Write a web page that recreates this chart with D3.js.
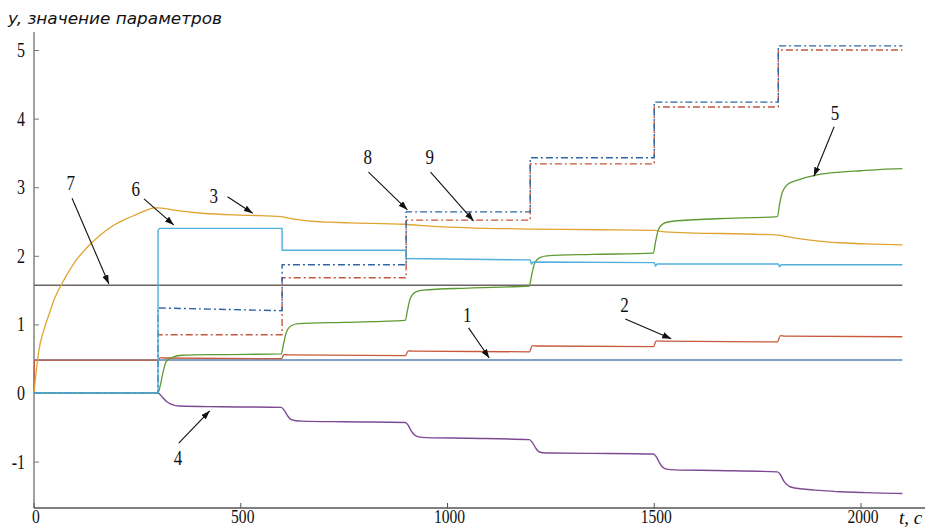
<!DOCTYPE html>
<html><head><meta charset="utf-8">
<script src="https://cdn.jsdelivr.net/npm/d3@7"></script>
<style>body{margin:0;background:#fff;overflow:hidden}</style>
</head><body><svg id="c" width="927" height="529"></svg>
<script>
// ---------- data ----------
const xTicks = [0, 500, 1000, 1500, 2000];
const yTicks = [-1, 0, 1, 2, 3, 4, 5];
const yTitle = "y, значение параметров";
const xTitle = "t, c";

// 1 – blue
const t1 = [0, 2100];
const v1 = [0.48, 0.48];
// 2 – red
const t2 = [0, 1, 300, 305, 315, 598, 605, 615, 898, 905, 915, 1198, 1205, 1215, 1498, 1505, 1515, 1798, 1805, 1815, 2100];
const v2 = [0, 0.48, 0.48, 0.515, 0.51, 0.50, 0.56, 0.555, 0.545, 0.615, 0.61, 0.60, 0.69, 0.685, 0.675, 0.76, 0.755, 0.745, 0.835, 0.83, 0.82];
// 3 – orange
const t3 = [0, 6, 12, 24, 36, 50, 68, 100, 133, 160, 189, 220, 247, 270, 290, 300, 334, 407, 520, 598, 615, 634, 680, 714, 763, 896, 964, 1199, 1368, 1500, 1525, 1800, 1821, 1877, 1949, 2030, 2100];
const v3 = [0, 0.35, 0.63, 0.92, 1.14, 1.38, 1.6, 1.92, 2.15, 2.3, 2.43, 2.53, 2.6, 2.66, 2.7, 2.7, 2.67, 2.62, 2.59, 2.57, 2.55, 2.53, 2.50, 2.49, 2.48, 2.46, 2.43, 2.39, 2.38, 2.37, 2.35, 2.30, 2.28, 2.23, 2.19, 2.17, 2.16];
// 4 – purple
const t4 = [0, 300, 310, 320, 330, 340, 351, 450, 598, 605, 613, 620, 630, 650, 750, 898, 905, 913, 920, 930, 950, 1050, 1198, 1205, 1213, 1220, 1230, 1250, 1350, 1498, 1505, 1513, 1520, 1530, 1550, 1650, 1798, 1805, 1813, 1820, 1830, 1860, 1900, 1950, 2000, 2050, 2100];
const v4 = [0, 0, -0.06, -0.12, -0.16, -0.18, -0.19, -0.20, -0.21, -0.25, -0.33, -0.38, -0.40, -0.41, -0.42, -0.43, -0.47, -0.56, -0.61, -0.64, -0.65, -0.66, -0.68, -0.72, -0.80, -0.85, -0.87, -0.875, -0.88, -0.89, -0.93, -1.02, -1.08, -1.11, -1.12, -1.13, -1.15, -1.19, -1.28, -1.33, -1.37, -1.40, -1.42, -1.44, -1.45, -1.46, -1.465];
// 5 – green
const t5 = [0, 300, 305, 312, 320, 335, 358, 450, 598, 603, 610, 622, 640, 750, 898, 903, 910, 922, 940, 1050, 1198, 1203, 1210, 1222, 1240, 1350, 1498, 1503, 1510, 1522, 1540, 1650, 1798, 1803, 1810, 1822, 1850, 1894, 1950, 1998, 2050, 2100];
const v5 = [0, 0, 0.1, 0.3, 0.46, 0.52, 0.55, 0.56, 0.57, 0.7, 0.88, 0.98, 1.01, 1.03, 1.06, 1.2, 1.38, 1.47, 1.50, 1.53, 1.56, 1.7, 1.88, 1.97, 2.0, 2.02, 2.04, 2.2, 2.38, 2.47, 2.50, 2.54, 2.57, 2.75, 2.93, 3.04, 3.11, 3.18, 3.22, 3.24, 3.26, 3.27];
// 6 – light blue
const t6 = [0, 300, 300, 304, 598, 600, 600, 898, 900, 900, 1198, 1200, 1203, 1207, 1498, 1500, 1503, 1507, 1798, 1800, 1803, 1807, 2100];
const v6 = [0, 0, 2.37, 2.40, 2.40, 2.40, 2.08, 2.08, 2.08, 1.96, 1.94, 1.94, 1.88, 1.91, 1.90, 1.90, 1.85, 1.88, 1.88, 1.88, 1.84, 1.87, 1.87];
// 7 – gray
const t7 = [0, 2100];
const v7 = [1.57, 1.57];
// 8 – blue dash-dot
const t8 = [0, 300, 300, 600, 600, 900, 900, 1200, 1200, 1500, 1500, 1800, 1800, 2100];
const v8 = [0, 0, 1.24, 1.20, 1.87, 1.87, 2.64, 2.64, 3.43, 3.43, 4.24, 4.24, 5.06, 5.06];
// 9 – red dash-dot
const t9 = [0, 300, 300, 600, 600, 900, 900, 1200, 1200, 1500, 1500, 1800, 1800, 2100];
const v9 = [0, 0, 0.85, 0.85, 1.68, 1.68, 2.52, 2.52, 3.34, 3.34, 4.17, 4.17, 5.00, 5.00];

// annotation labels: text, label (t,v), arrow start (t,v), arrow tip (t,v)
const annNames = ["1", "2", "3", "4", "5", "6", "7", "8", "9"];
const annLabelT = [1048, 1428, 435, 348, 1937, 246, 89, 807, 957];
const annLabelV = [1.14, 1.28, 2.87, -0.95, 4.08, 2.97, 3.06, 3.44, 3.44];
const annFromT = [1051, 1430, 468, 350, 1935, 266, 92, 809, 959];
const annFromV = [0.95, 1.08, 2.86, -0.73, 3.88, 2.83, 2.84, 3.22, 3.22];
const annToT = [1101, 1541, 529, 425, 1886, 338, 181, 903, 1063];
const annToV = [0.51, 0.79, 2.62, -0.26, 3.16, 2.45, 1.59, 2.67, 2.51];

// ---------- drawing ----------
const svg = d3.select("#c");
const x = d3.scaleLinear().domain([0, 2000]).range([34, 861]);
const y = d3.scaleLinear().domain([0, 5]).range([393, 50]);

const defs = svg.append("defs");
defs.append("marker").attr("id", "arr").attr("viewBox", "0 0 10 7")
  .attr("refX", 10).attr("refY", 3.5).attr("markerWidth", 9).attr("markerHeight", 6.5)
  .attr("markerUnits", "userSpaceOnUse").attr("orient", "auto")
  .append("path").attr("d", "M0,0 L10,3.5 L0,7 Z").attr("fill", "#111");

// axes
const yTop = y.invert(32), yBot = y.invert(508);
svg.append("line").attr("x1", x(0)).attr("x2", x(0)).attr("y1", y(yTop)).attr("y2", y(yBot))
  .attr("stroke", "#8a8a8a").attr("stroke-width", 1.6);
svg.append("line").attr("x1", x(0)).attr("x2", 925).attr("y1", y(yBot)).attr("y2", y(yBot))
  .attr("stroke", "#555").attr("stroke-width", 1.4);

const ya = svg.append("g").attr("transform", `translate(${x(0)},0)`)
  .call(d3.axisLeft(y).tickValues(yTicks).tickFormat(d => String(d)).tickSize(-5).tickPadding(9));
ya.select(".domain").remove();
ya.selectAll(".tick line").attr("stroke", "#777");
ya.selectAll(".tick text").attr("font-family", "Liberation Serif, serif").attr("font-size", 20)
  .attr("fill", "#111")
  .attr("transform", "scale(0.8,1)").attr("x", function () { return +this.getAttribute("x") / 0.8; });

const xa = svg.append("g").attr("transform", `translate(0,${y(yBot)})`)
  .call(d3.axisBottom(x).tickValues(xTicks).tickFormat(d => String(d)).tickSize(-5).tickPadding(2));
xa.select(".domain").remove();
xa.selectAll(".tick line").attr("stroke", "#555");
xa.selectAll(".tick text").attr("font-family", "Liberation Serif, serif").attr("font-size", 19)
  .attr("fill", "#111").attr("transform", "scale(0.82,1)");
xa.selectAll(".tick").attr("transform", d => `translate(${x(d) + 2},0)`);
xa.selectAll(".tick line").attr("transform", "translate(-2,0)");

svg.append("text").attr("x", 8).attr("y", 24).attr("font-family", "DejaVu Sans, sans-serif")
  .attr("font-style", "italic").attr("font-size", 16).attr("fill", "#111")
  .attr("textLength", 214).attr("lengthAdjust", "spacingAndGlyphs").text(yTitle);
svg.append("text").attr("x", 899).attr("y", 524).attr("font-family", "Liberation Serif, serif")
  .attr("font-style", "italic").attr("font-size", 19).attr("fill", "#111").text(xTitle);

// series
function pts(ts, vs) { return ts.map((t, i) => [t, vs[i]]); }
const lin = d3.line().x(d => x(d[0])).y(d => y(d[1])).curve(d3.curveLinear);
const smooth = d3.line().x(d => x(d[0])).y(d => y(d[1])).curve(d3.curveMonotoneX);
const series = [
  { d: pts(t7, v7), c: "#6b6262", g: lin, w: 1.5 },
  { d: pts(t1, v1), c: "#5b82b2", g: lin, w: 1.6 },
  { d: pts(t2, v2), c: "#c65a3a", g: smooth, w: 1.3 },
  { d: pts(t3, v3), c: "#dfa432", g: smooth, w: 1.3 },
  { d: pts(t4, v4), c: "#7d4a92", g: smooth, w: 1.4 },
  { d: pts(t5, v5), c: "#5e9a32", g: smooth, w: 1.3 },
  { d: pts(t9, v9), c: "#c4573f", g: lin, w: 1.4, dash: "7,3,2,3" },
  { d: pts(t8, v8), c: "#2f66a3", g: lin, w: 1.4, dash: "7,3,2,3" },
  { d: pts(t6, v6), c: "#52aedb", g: lin, w: 1.4 }
];
svg.append("g").selectAll("path").data(series).join("path")
  .attr("d", s => s.g(s.d)).attr("fill", "none").attr("stroke", s => s.c)
  .attr("stroke-width", s => s.w).attr("stroke-dasharray", s => s.dash || null)
  .attr("stroke-linejoin", "round");

// annotations
const ann = svg.append("g");
annNames.forEach((n, i) => {
  ann.append("line").attr("x1", x(annFromT[i])).attr("y1", y(annFromV[i]))
    .attr("x2", x(annToT[i])).attr("y2", y(annToV[i]))
    .attr("stroke", "#111").attr("stroke-width", 1.1).attr("marker-end", "url(#arr)");
  ann.append("text").attr("transform", `translate(${x(annLabelT[i])},${y(annLabelV[i])}) scale(0.85,1)`)
    .attr("text-anchor", "middle").attr("dy", "0.35em")
    .attr("font-family", "Liberation Serif, serif").attr("font-size", 20).attr("fill", "#111").text(n);
});
</script></body></html>
